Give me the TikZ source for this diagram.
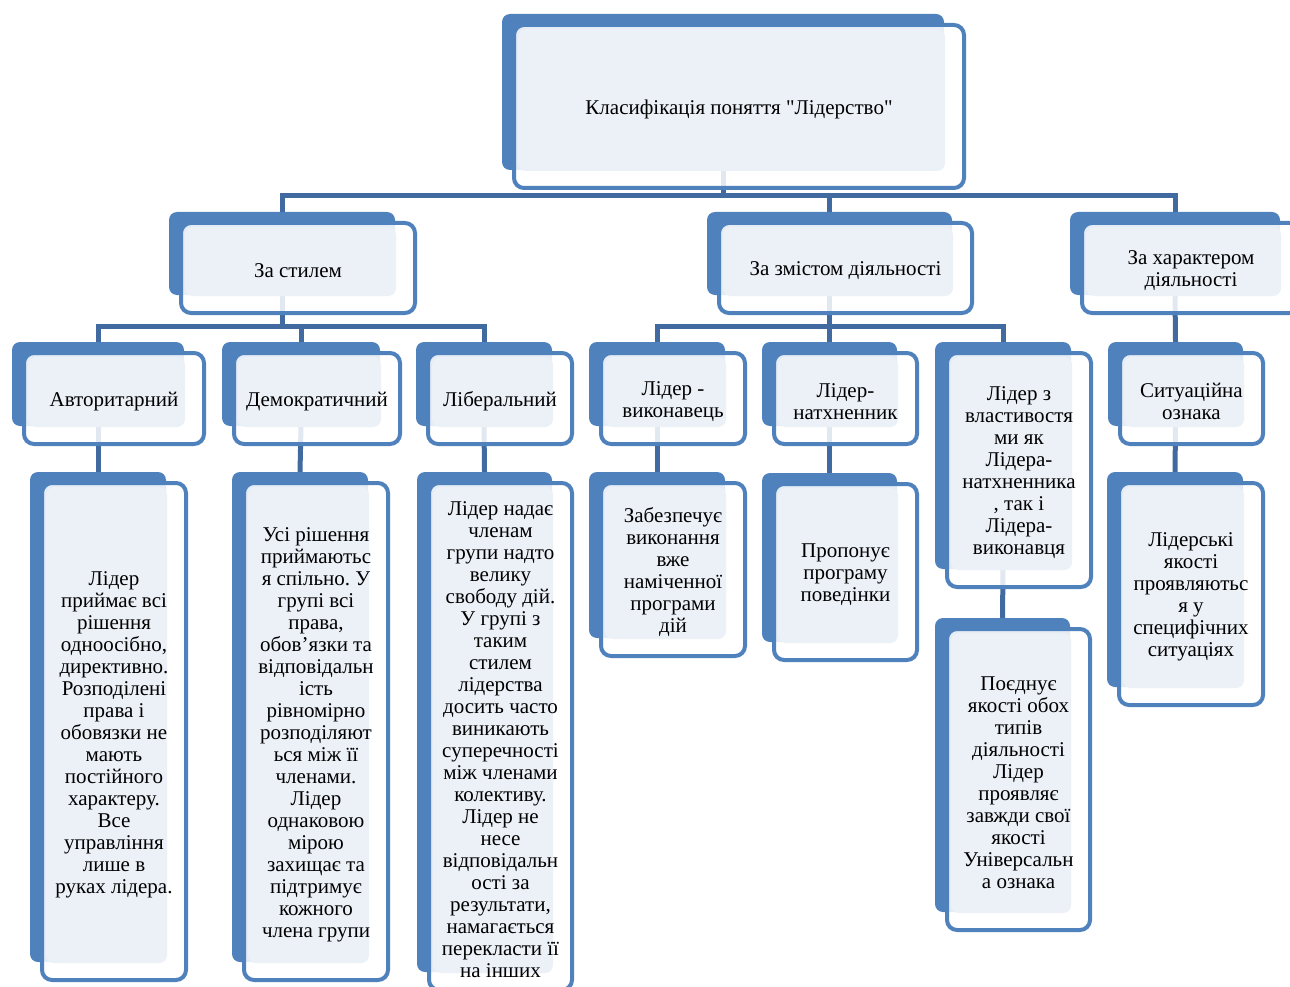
\documentclass[tikz,border=0pt]{standalone}
\usepackage{fontspec}
\setmainfont{Liberation Serif}[Ligatures=TeXOff]
\usepackage{tikz}
\usetikzlibrary{calc}
\usetikzlibrary{backgrounds}
\definecolor{blau}{RGB}{79,129,189}
\definecolor{linienblau}{RGB}{64,106,160}
\definecolor{hellblau}{RGB}{236,241,248}
\frenchspacing
\tikzset{every picture/.style={x=1pt, y=-1pt}}
\tikzstyle{hinten}	= [rectangle, rounded corners=8pt, fill=blau, inner sep=0pt, outer sep=0pt]
\tikzstyle{vorne}	= [rounded corners=10pt, draw=blau, line width=4pt, fill=white, fill opacity=0.85]
\tikzstyle{innen}	= [rounded corners=8pt, fill=hellblau]
\tikzstyle{schrift}	= [align=center, inner sep=0pt, font=\fontsize{21}{22}\selectfont]
\tikzstyle{linie}	= [draw=linienblau, line width=5pt]
% Rahmen: Name, x1, y1, x2, y2 (hintere Flaeche), Text
\newcommand{\Rahmen}[6]{%
	\node[hinten, minimum width={#4-#2}, minimum height={#5-#3}] (#1) at ({(#2+#4)/2},{(#3+#5)/2}) {};
	\draw[vorne] ([shift={(12,11)}]#1.north west) rectangle ([shift={(20,18)}]#1.south east);
	\fill[innen] ([shift={(16,15)}]#1.north west) rectangle ([shift={(1,1)}]#1.south east);
	\node[schrift] (#1-text) at ([shift={(16,17.5)}]#1.center) {#6};
}

\begin{document}
\begin{tikzpicture}
	\useasboundingbox (0,0) rectangle (1290,987);
	\clip (0,0) rectangle (1290,987);

	% Ebene 1
	\Rahmen{klas}{502}{14}{944}{170}{Класифікація поняття "Лідерство"}

	% Ebene 2
	\Rahmen{stil}{169}{212}{395}{295}{За стилем}
	\Rahmen{zmist}{707}{212}{952}{295}{За змістом діяльності}
	\Rahmen{charakter}{1070}{212}{1280}{295}{За характером\\діяльності}

	% Ebene 3
	\Rahmen{avto}{12}{342}{184}{426}{Авторитарний}
	\Rahmen{demo}{222}{342}{380}{426}{Демократичний}
	\Rahmen{libe}{416}{342}{552}{426}{Ліберальний}
	\Rahmen{vyk}{589}{342}{725}{426}{Лідер -\\виконавець}
	\Rahmen{natch}{762}{342}{897}{426}{Лідер-\\натхненник}
	\Rahmen{vlast}{935}{342}{1071}{569}{Лідер з\\властивостя\\ми як\\Лідера-\\натхненника\\, так і\\Лідера-\\виконавця}
	\Rahmen{sit}{1108}{342}{1243}{426}{Ситуаційна\\ознака}

	% Ebene 4
	\Rahmen{avtoB}{30}{472}{166}{962}{Лідер\\приймає всі\\рішення\\одноосібно,\\директивно.\\Розподілені\\права і\\обовязки не\\мають\\постійного\\характеру.\\Все\\управління\\лише в\\руках лідера.}
	\Rahmen{demoB}{232}{472}{368}{962}{Усі рішення\\приймаютьс\\я спільно. У\\групі всі\\права,\\обов’язки та\\відповідальн\\ість\\рівномірно\\розподіляют\\ься між її\\членами.\\Лідер\\однаковою\\мірою\\захищає та\\підтримує\\кожного\\члена групи}
	\Rahmen{libeB}{417}{472}{552}{972}{Лідер надає\\членам\\групи надто\\велику\\свободу дій.\\У групі з\\таким\\стилем\\лідерства\\досить часто\\виникають\\суперечності\\між членами\\колективу.\\Лідер не\\несе\\відповідальн\\ості за\\результати,\\намагається\\перекласти її\\на інших}
	\Rahmen{vykB}{589}{472}{725}{638}{Забезпечує\\виконання\\вже\\наміченної\\програми\\дій}
	\Rahmen{natchB}{762}{473}{897}{642}{Пропонує\\програму\\поведінки}
	\Rahmen{vlastB}{935}{618}{1070}{912}{Поєднує\\якості обох\\типів\\діяльності\\Лідер\\проявляє\\завжди свої\\якості\\Універсальн\\а ознака}
	\Rahmen{sitB}{1107}{472}{1243}{687}{Лідерські\\якості\\проявляютьс\\я у\\специфічних\\ситуаціях}

	% Verbindungen
	\begin{pgfonlayer}{background}
		\draw[linie] (klas.south) -- ++(0,26) coordinate (k1);
		\draw[linie] (k1) -| (stil.north);
		\draw[linie] (k1) -| (zmist.north);
		\draw[linie] (k1) -| (charakter.north);

		\draw[linie] (stil.south) -- ++(0,31) coordinate (s1);
		\draw[linie] (s1) -| (avto.north);
		\draw[linie] (s1) -| (demo.north);
		\draw[linie] (s1) -| (libe.north);

		\draw[linie] (zmist.south) -- ++(0,31) coordinate (z1);
		\draw[linie] (z1) -| (vyk.north);
		\draw[linie] (z1) -| (natch.north);
		\draw[linie] (z1) -| (vlast.north);

		\draw[linie] (charakter.south) -- (sit.north);

		\draw[linie] (avto.south) -- (avtoB.north);
		\draw[linie] (demo.south) -- (demoB.north);
		\draw[linie] (libe.south) -- (libeB.north);
		\draw[linie] (vyk.south) -- (vykB.north);
		\draw[linie] (natch.south) -- (natchB.north);
		\draw[linie] (vlast.south) -- (vlastB.north);
		\draw[linie] (sit.south) -- (sitB.north);
	\end{pgfonlayer}
\end{tikzpicture}
\end{document}
